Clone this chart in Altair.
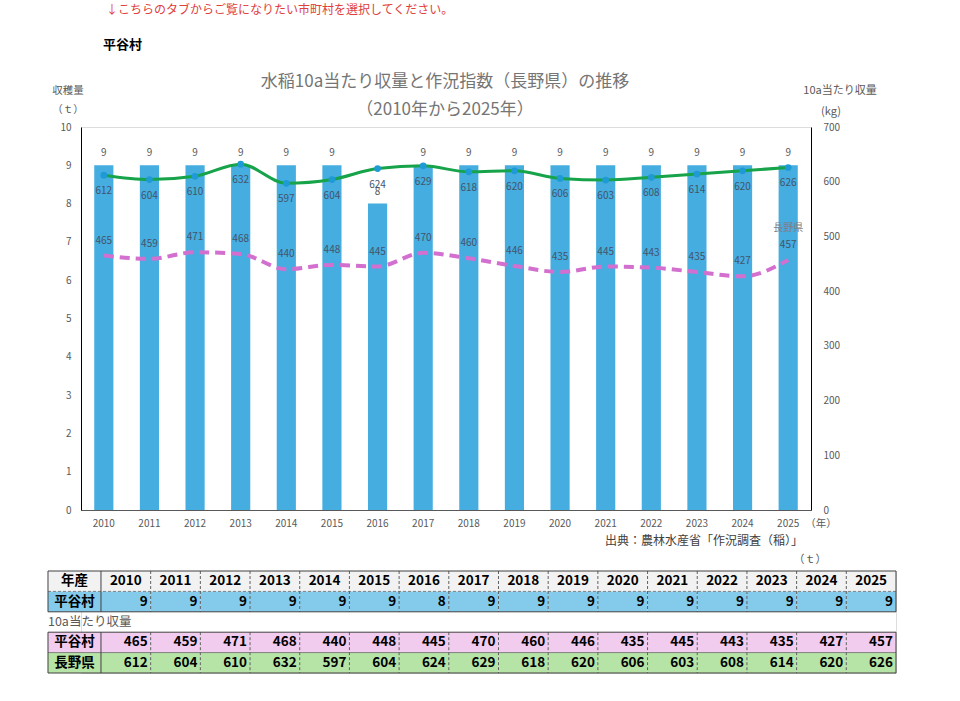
import altair as alt
import pandas as pd

# ---------------- data ----------------
years = [2010, 2011, 2012, 2013, 2014, 2015, 2016, 2017,
         2018, 2019, 2020, 2021, 2022, 2023, 2024, 2025]
harvest_t = [9, 9, 9, 9, 9, 9, 8, 9, 9, 9, 9, 9, 9, 9, 9, 9]
village_yield_kg = [465, 459, 471, 468, 440, 448, 445, 470,
                    460, 446, 435, 445, 443, 435, 427, 457]
pref_yield_kg = [612, 604, 610, 632, 597, 604, 624, 629,
                 618, 620, 606, 603, 608, 614, 620, 626]
left_ticks = list(range(0, 11))
right_ticks = list(range(0, 701, 100))

FONT = "Noto Sans CJK JP"
GREY = "#595959"
LABEL = "#44546A"

df = pd.DataFrame({
    "year": [str(y) for y in years],
    "harvest": harvest_t,
    "village": village_yield_kg,
    "pref": pref_yield_kg,
})

W, H = 730, 383

xenc = alt.X("year:N", sort=None,
             scale=alt.Scale(paddingInner=0.58, paddingOuter=0.29),
             axis=alt.Axis(title=None, labelAngle=0, labelColor=GREY, labelFontSize=10,
                           labelFont=FONT, ticks=False, domainColor=GREY, labelPadding=8))

left_axis = alt.Axis(title=None, values=left_ticks, grid=False, ticks=False,
                     domainColor="#000000", labelColor=GREY, labelFontSize=10,
                     labelFont=FONT, labelPadding=10)
right_axis = alt.Axis(title=None, values=right_ticks, grid=False, ticks=False, orient="right",
                      domainColor="#000000", labelColor=GREY, labelFontSize=10,
                      labelFont=FONT, labelPadding=12, labelAlign="left")
lscale = alt.Scale(domain=[0, 10], nice=False, zero=True)
rscale = alt.Scale(domain=[0, 700], nice=False, zero=True)

base = alt.Chart(df)

bars = base.mark_bar(color="#45ADE0").encode(
    x=xenc, y=alt.Y("harvest:Q", scale=lscale, axis=left_axis))
bar_text = base.mark_text(dy=-12, fontSize=10, color=GREY, font=FONT).encode(
    x=xenc, y=alt.Y("harvest:Q", scale=lscale, axis=left_axis), text="harvest:Q")
left_layer = alt.layer(bars, bar_text)

pref_line = base.mark_line(color="#16A34A", strokeWidth=3, interpolate="monotone").encode(
    x=xenc, y=alt.Y("pref:Q", scale=rscale, axis=right_axis))
pref_pts = base.mark_circle(size=45, color="#1E9AD6", opacity=1).encode(
    x=xenc, y=alt.Y("pref:Q", scale=rscale, axis=right_axis))
pref_text = base.mark_text(dy=16, fontSize=10, color=LABEL, font=FONT).encode(
    x=xenc, y=alt.Y("pref:Q", scale=rscale, axis=right_axis), text="pref:Q")
vil_line = base.mark_line(color="#D36FCF", strokeWidth=4, strokeDash=[10, 6],
                          interpolate="monotone").encode(
    x=xenc, y=alt.Y("village:Q", scale=rscale, axis=right_axis))
vil_text = base.mark_text(dy=-15, fontSize=10, color=LABEL, font=FONT).encode(
    x=xenc, y=alt.Y("village:Q", scale=rscale, axis=right_axis), text="village:Q")
series_name = base.transform_filter(alt.datum.year == "2025").mark_text(
    text="長野県", dy=-32, fontSize=10, color="#7F7F7F", font=FONT).encode(
    x=xenc, y=alt.Y("village:Q", scale=rscale, axis=right_axis))
right_layer = alt.layer(pref_line, pref_pts, pref_text, vil_line, vil_text, series_name)


def note(text, x, y, size=10.5, color=GREY, align="center", weight="normal"):
    return alt.Chart(alt.Data(values=[{}])).mark_text(
        text=text, fontSize=size, color=color, align=align, baseline="middle",
        font=FONT, fontWeight=weight).encode(x=alt.value(x), y=alt.value(y))


TITLE_GREY = "#757575"
notes = [
    note("↓こちらのタブからご覧になりたい市町村を選択してください。", 25, -117, 12, "#E0403C", "left"),
    note("平谷村", 22, -82, 13, "#000000", "left", "bold"),
    note("水稲10a当たり収量と作況指数（長野県）の推移", 364, -45, 17, TITLE_GREY),
    note("（2010年から2025年）", 364, -17, 17, TITLE_GREY),
    note("収穫量", -13, -36),
    note("（ｔ）", -13, -17),
    note("10a当たり収量", 759, -36, 11),
    note("(kg)", 750, -15, 11),
    note("（年）", 740, 397),
    note("出典：農林水産省「作況調査（稲）」", 722, 414, 12, "#404040", "right"),
    note("（ｔ）", 729, 433, 11),
]

main = alt.layer(left_layer, right_layer, *notes).resolve_scale(y="independent").properties(
    width=W, height=H)

# ---------------- table ----------------
HEAD_W = 53 / 49.7
row_defs = [
    ("年産", [str(y) for y in years], "head"),
    ("平谷村", [str(v) for v in harvest_t], "harvest"),
    ("平谷村", [str(v) for v in village_yield_kg], "village"),
    ("長野県", [str(v) for v in pref_yield_kg], "pref"),
]
row_pos = [0, 1, 3, 4]
cells = []
for (label, vals, kind), r in zip(row_defs, row_pos):
    cells.append({"x0": -HEAD_W, "x1": 0, "y0": r, "y1": r + 1, "kind": "head" if r == 0 else kind,
                  "txt": label, "role": "center"})
    for i, v in enumerate(vals):
        cells.append({"x0": i, "x1": i + 1, "y0": r, "y1": r + 1, "kind": kind,
                      "txt": v, "role": "center" if r == 0 else "right"})
cells_df = pd.DataFrame(cells)
cells_df["xm"] = (cells_df["x0"] + cells_df["x1"]) / 2
cells_df["ym"] = (cells_df["y0"] + cells_df["y1"]) / 2

tx = alt.Scale(domain=[-0.402, 16], nice=False, zero=False)
ty = alt.Scale(domain=[0, 5], nice=False, zero=False, reverse=True)
fill_scale = alt.Scale(domain=["head", "harvest", "village", "pref"],
                       range=["#F2F2F2", "#83CAEB", "#F1CCEF", "#B5E4A6"])

tbase = alt.Chart(cells_df)
cell_rects = tbase.mark_rect().encode(
    x=alt.X("x0:Q", scale=tx, axis=None), x2="x1:Q",
    y=alt.Y("y0:Q", scale=ty, axis=None), y2="y1:Q",
    color=alt.Color("kind:N", scale=fill_scale, legend=None))
center_text = tbase.transform_filter(alt.datum.role == "center").mark_text(
    fontSize=13.5, fontWeight="bold", font=FONT, color="#000000").encode(
    x=alt.X("xm:Q", scale=tx, axis=None), y=alt.Y("ym:Q", scale=ty, axis=None), text="txt:N")
right_text = tbase.transform_filter(alt.datum.role == "right").mark_text(
    fontSize=13.5, fontWeight="bold", font=FONT, color="#000000", align="right", dx=-3).encode(
    x=alt.X("x1:Q", scale=tx, axis=None), y=alt.Y("ym:Q", scale=ty, axis=None), text="txt:N")

blocks = pd.DataFrame({"x0": [-HEAD_W, -HEAD_W], "x1": [16, 16], "y0": [0, 3], "y1": [2, 5]})
block_rects = alt.Chart(blocks).mark_rect(fill=None, stroke="#404040", strokeWidth=1).encode(
    x=alt.X("x0:Q", scale=tx, axis=None), x2="x1:Q",
    y=alt.Y("y0:Q", scale=ty, axis=None), y2="y1:Q")

vsep = pd.DataFrame([{"x": c, "y0": b0, "y1": b0 + 2, "solid": c == 0}
                     for b0 in (0, 3) for c in range(0, 16)])
vsolid = alt.Chart(vsep).transform_filter(alt.datum.solid).mark_rule(
    color="#404040", strokeWidth=1).encode(
    x=alt.X("x:Q", scale=tx, axis=None), y=alt.Y("y0:Q", scale=ty, axis=None), y2="y1:Q")
vdash = alt.Chart(vsep).transform_filter(~alt.datum.solid).mark_rule(
    color="#606060", strokeWidth=1, strokeDash=[3, 2]).encode(
    x=alt.X("x:Q", scale=tx, axis=None), y=alt.Y("y0:Q", scale=ty, axis=None), y2="y1:Q")
hsep = pd.DataFrame({"x0": [-HEAD_W, -HEAD_W], "x1": [16, 16], "y": [1, 4], "dash": [True, False]})
hdash = alt.Chart(hsep).transform_filter(alt.datum.dash).mark_rule(
    color="#808080", strokeWidth=1, strokeDash=[3, 2]).encode(
    x=alt.X("x0:Q", scale=tx, axis=None), x2="x1:Q", y=alt.Y("y:Q", scale=ty, axis=None))
hsolid = alt.Chart(hsep).transform_filter(~alt.datum.dash).mark_rule(
    color="#808080", strokeWidth=1).encode(
    x=alt.X("x0:Q", scale=tx, axis=None), x2="x1:Q", y=alt.Y("y:Q", scale=ty, axis=None))

label_row = alt.Chart(alt.Data(values=[{"x": -HEAD_W, "y": 2.5}])).mark_text(
    text="10a当たり収量", fontSize=12.5, color=GREY, align="left", font=FONT).encode(
    x=alt.X("x:Q", scale=tx, axis=None), y=alt.Y("y:Q", scale=ty, axis=None))

table = alt.layer(cell_rects, hdash, hsolid, vdash, vsolid, block_rects,
                  center_text, right_text, label_row).properties(width=815, height=102)

chart = alt.vconcat(main, table, spacing=61, bounds="flush").properties(
    padding={"left": 46, "top": 3, "right": 10, "bottom": 5}
).configure_view(stroke=None).configure(font=FONT)

chart.save("out.html", embed_options={"renderer": "svg", "actions": False})
